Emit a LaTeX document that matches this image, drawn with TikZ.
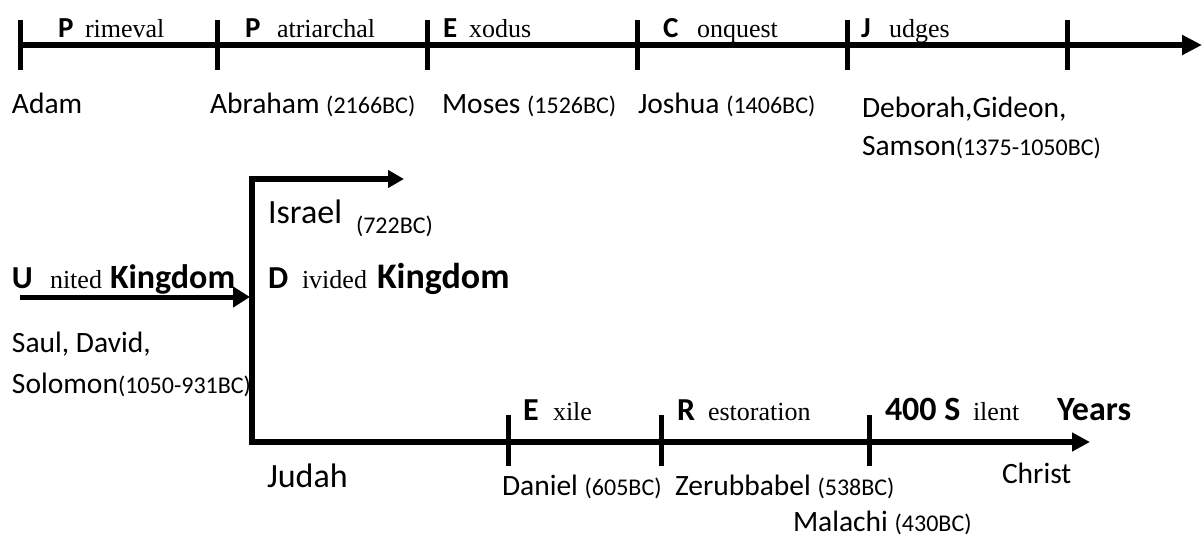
\documentclass[tikz,border=0pt]{standalone}
\usepackage{fontspec}
\setmainfont{Liberation Serif}
\newfontfamily\calfont{Carlito}
\usetikzlibrary{arrows.meta}
\newcommand\fs[1]{\fontsize{#1}{#1}\selectfont}
\newcommand\dt[1]{{\fs{24}#1}}
\begin{document}
\begin{tikzpicture}[x=1pt,y=-1pt,
  axisln/.style={line width=6pt, line join=miter},
  tipr/.style={-{Triangle[length=20pt,width=19pt]}},
  tickln/.style={line width=5pt},
  lblbase/.style={anchor=base west, inner sep=0pt, outer sep=0pt},
  nmtext/.style={lblbase, font=\calfont\fs{29.5}},
  bignmtext/.style={lblbase, font=\calfont\fs{34}},
  sertext/.style={lblbase, font=\fs{26}},
  boldtop/.style={lblbase, font=\calfont\bfseries\fs{29}},
  boldbot/.style={lblbase, font=\calfont\bfseries\fs{32}},
  kingdtext/.style={lblbase, font=\calfont\bfseries\fs{34}},
]
\useasboundingbox (0,0) rectangle (1202,538);

% ---------- top timeline ----------
\coordinate (ts) at (20,45);
\coordinate (te) at (1202,45);
\draw[axisln,tipr] (ts) -- (te);
\foreach \x/\n in {20/a,217/b,427/c,637/d,847/e,1067/f}{
  \coordinate (tt\n) at (\x,20);
  \coordinate (tb\n) at (\x,70);
  \draw[tickln] (tt\n) -- (tb\n);
}
\node[boldtop] (p1) at (58,37) {P};
\node[sertext] (p1s) at (85,37) {rimeval};
\node[boldtop] (p2) at (245,37) {P};
\node[sertext] (p2s) at (277,37) {atriarchal};
\node[boldtop] (e1) at (443,37) {E};
\node[sertext] (e1s) at (469,37) {xodus};
\node[boldtop] (c1) at (663,37) {C};
\node[sertext] (c1s) at (697,37) {onquest};
\node[boldtop] (j1) at (861,37) {J};
\node[sertext] (j1s) at (889,37) {udges};

\node[nmtext] (adam) at (12,113) {Adam};
\node[nmtext] (abr) at (210,113) {Abraham \dt{(2166BC)}};
\node[nmtext] (mos) at (442,113) {Moses \dt{(1526BC)}};
\node[nmtext] (jos) at (638,113) {Joshua \dt{(1406BC)}};
\node[nmtext] (deb) at (862,117) {Deborah,Gideon,};
\node[nmtext] (sam) at (862,155) {Samson\dt{(1375-1050BC)}};

% ---------- united / divided ----------
\coordinate (us) at (20,297);
\coordinate (ue) at (250,297);
\draw[line width=5pt,-{Triangle[length=17pt,width=20pt]}] (us) -- (ue);
\coordinate (ie) at (404,179);
\coordinate (k1c) at (252,179);
\coordinate (k2c) at (252,442);
\coordinate (ce) at (1090,442);
\draw[axisln,{Triangle[length=16pt,width=17pt]}-{Triangle[length=18pt,width=18pt]}] (ie) -- (k1c) -- (k2c) -- (ce);

\node[boldbot] (u) at (12,288) {U};
\node[sertext] (us2) at (50,288) {nited};
\node[kingdtext] (k1) at (110,288) {Kingdom};
\node[bignmtext] (isr) at (268,223) {Israel};
\node[lblbase,font=\calfont\fs{24}] (isd) at (356,233) {(722BC)};
\node[boldbot] (d) at (268,288) {D};
\node[sertext] (ds) at (302,288) {ivided};
\node[kingdtext,font=\calfont\bfseries\fs{36}] (k2) at (377,288) {Kingdom};
\node[nmtext] (saul) at (12,352) {Saul, David,};
\node[nmtext] (sol) at (12,393) {Solomon\dt{(1050-931BC)}};
\node[bignmtext] (jud) at (267,487) {Judah};

% ---------- bottom timeline ----------
\foreach \x/\n in {508/a,661/b,869/c}{
  \coordinate (bt\n) at (\x,415);
  \coordinate (bb\n) at (\x,466);
  \draw[tickln] (bt\n) -- (bb\n);
}
\node[boldbot] (e2) at (523,420) {E};
\node[sertext] (e2s) at (553,420) {xile};
\node[boldbot] (r) at (677,420) {R};
\node[sertext] (rs) at (708,420) {estoration};
\node[boldbot,font=\calfont\bfseries\fs{34}] (fh) at (885,420) {400 S};
\node[sertext] (fhs) at (973,420) {ilent};
\node[kingdtext] (yrs) at (1057,420) {Years};
\node[nmtext] (dan) at (502,495) {Daniel \dt{(605BC)}};
\node[nmtext] (zer) at (675,495) {Zerubbabel \dt{(538BC)}};
\node[nmtext] (mal) at (793,531) {Malachi \dt{(430BC)}};
\node[nmtext] (chr) at (1002,483) {Christ};
\end{tikzpicture}
\end{document}
